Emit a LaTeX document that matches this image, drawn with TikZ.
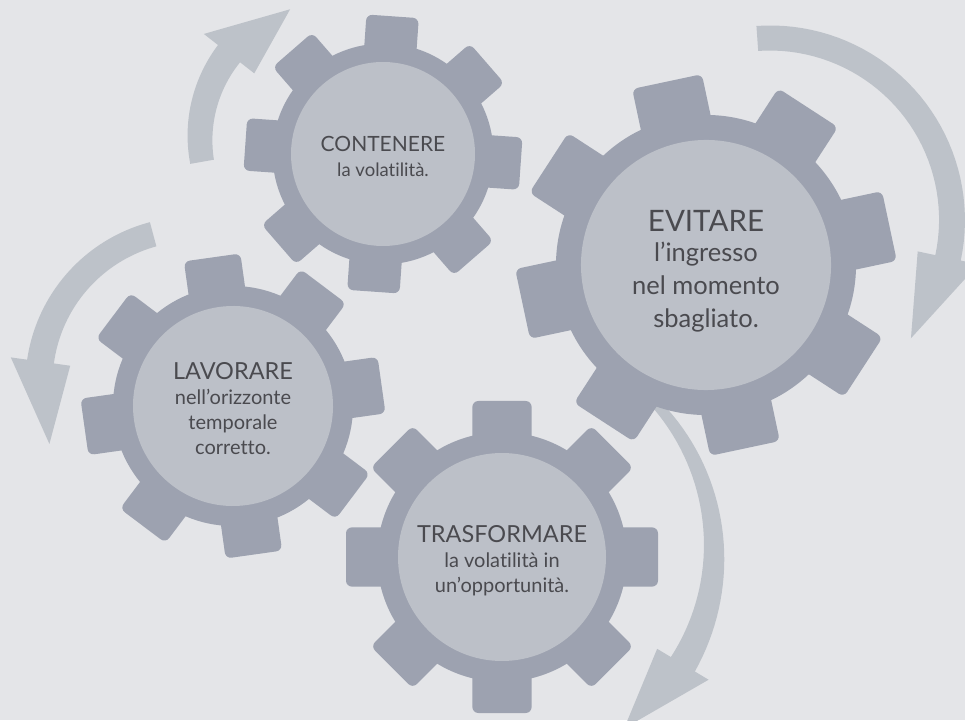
\documentclass[tikz,border=0pt]{standalone}
\usepackage{fontspec}
\setmainfont{Lato}[Ligatures=NoCommon]
\usepackage{tikz}
\usetikzlibrary{positioning}
\definecolor{bgcol}{HTML}{E4E5E8}
\definecolor{gearcol}{HTML}{9DA2B0}
\definecolor{facecol}{HTML}{BCC0C8}
\definecolor{arrowcol}{HTML}{BDC2C9}
\definecolor{inkcol}{HTML}{4A4A4F}
\newcommand{\titlesize}{\fontsize{23.5}{25}\selectfont}
\newcommand{\bodysize}{\fontsize{20}{25}\selectfont}
\newcommand{\cogwheel}{\fill[gearbody] (0,0) circle (1.2);
					\foreach \t in {0,45,...,315}
						\fill[gearbody, rotate=\t, rounded corners=6pt] (-0.285,1) -- (-0.285,1.5) -- (0.285,1.5) -- (0.285,1) -- cycle;
					\fill[gearface] (0,0) circle (1);}
\newcommand{\turnarrow}[8]{\fill[arrowfill] plot[domain=#2:#3, samples=40] (\x:{#1+(#4+(#5-#4)*(\x-#2)/(#3-#2))/2})
					-- (#3:{#1+#6}) -- (#7:#8) -- (#3:{#1-#6})
					-- plot[domain=#3:#2, samples=40] (\x:{#1-(#4+(#5-#4)*(\x-#2)/(#3-#2))/2}) -- cycle;}

\begin{document}
\begin{tikzpicture}[x=1pt, y=1pt,
	gearbody/.style={fill=gearcol},
	gearface/.style={fill=facecol},
	arrowfill/.style={fill=arrowcol},
	gearlabel/.style={text=inkcol, align=center, inner sep=0pt, font=\bodysize}]

	\fill[bgcol] (0,0) rectangle (965,720);
	\useasboundingbox (0,0) rectangle (965,720);
	\clip (0,0) rectangle (965,720);

	% arrows round the gears
	\begin{scope}[shift={(337,582)}]
		\turnarrow{137}{190}{142}{24}{28}{32}{110}{137}
	\end{scope}

	\begin{scope}[shift={(770,500)}]
		\turnarrow{182}{94}{-12}{25}{26}{31}{-40}{184}
	\end{scope}

	\begin{scope}[shift={(193,337)}]
		\turnarrow{154}{105}{172}{25}{27}{30}{203}{156}
	\end{scope}

	\begin{scope}[shift={(496,168)}]
		\turnarrow{218}{50}{-31}{8}{28}{30}{-54}{218}
	\end{scope}

	% gears
	\begin{scope}[shift={(383,566)}, scale=92, rotate=-4]
		\cogwheel
	\end{scope}

	\begin{scope}[shift={(233,314)}, scale=100, rotate=8]
		\cogwheel
	\end{scope}

	\begin{scope}[shift={(502,163)}, scale=104, rotate=0]
		\cogwheel
	\end{scope}

	\begin{scope}[shift={(706,455)}, scale=125, rotate=12]
		\cogwheel
	\end{scope}

	% labels
	\node[gearlabel, font=\fontsize{18.5}{25}\selectfont] (contenere) at (383,564) {{\fontsize{21}{25}\selectfont CONTENERE}\\la volatilità.};
	\node[gearlabel, font=\fontsize{25.5}{33}\selectfont] (evitare) at (706,449) {{\fontsize{29.5}{30}\selectfont EVITARE}\\[-3pt]l’ingresso\\nel momento\\sbagliato.};
	\node[gearlabel] (lavorare) at (233,311) {{\titlesize LAVORARE}\\nell’orizzonte\\temporale\\corretto.};
	\node[gearlabel] (trasformare) at (502,159) {{\titlesize TRASFORMARE}\\la volatilità in\\un’opportunità.};

\end{tikzpicture}
\end{document}
